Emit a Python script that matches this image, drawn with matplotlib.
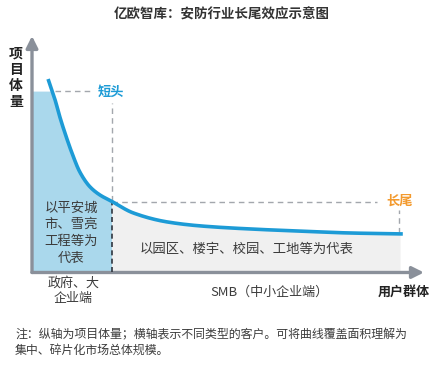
import numpy as np
import matplotlib
matplotlib.use('Agg')
import matplotlib.pyplot as plt

plt.rcParams['font.family'] = ['Noto Sans CJK SC', 'DejaVu Sans']

# long-tail curve (x: user group, y: project volume)
curve_x = [4.1, 5.9, 7.1, 8.4, 10.2, 12.2, 14.8, 17.3, 20.2, 25.8, 34.4, 42.9, 55.6, 68.4, 81.1, 94.6]
curve_y = [81.8, 72.9, 65.8, 59.0, 50.5, 42.5, 36.2, 32.8, 30.2, 25.2, 21.4, 19.7, 18.4, 17.5, 16.7, 16.3]

head_level = 76.7   # 短头 level
tail_level = 29.8   # 长尾 level
split_x = 20.3      # head / tail boundary
tail_end = 93.9
tail_mark = 93.6

title = '亿欧智库：安防行业长尾效应示意图'
head_text = '以平安城\n市、雪亮\n工程等为\n代表'
tail_text = '以园区、楼宇、校园、工地等为代表'
head_group = '政府、大\n企业端'
tail_group = 'SMB（中小企业端）'
note = '注：纵轴为项目体量；横轴表示不同类型的客户。可将曲线覆盖面积理解为\n集中、碎片化市场总体规模。'

blue = '#1d9bd6'
axis_col = '#8a909a'
dash_col = '#a3a7ad'
txt = '#3c3c3c'


def pchip(x, y, xs):
    # monotone cubic through the read points, only for a smooth drawing
    x = np.asarray(x, float)
    y = np.asarray(y, float)
    h = np.diff(x)
    d = np.diff(y) / h
    m = np.zeros_like(y)
    for k in range(1, len(x) - 1):
        if d[k - 1] * d[k] > 0:
            w1 = 2 * h[k] + h[k - 1]
            w2 = h[k] + 2 * h[k - 1]
            m[k] = (w1 + w2) / (w1 / d[k - 1] + w2 / d[k])
    m[0] = d[0]
    m[-1] = d[-1]
    i = np.clip(np.searchsorted(x, xs) - 1, 0, len(x) - 2)
    t = (xs - x[i]) / h[i]
    h00 = 2 * t**3 - 3 * t**2 + 1
    h10 = t**3 - 2 * t**2 + t
    h01 = -2 * t**3 + 3 * t**2
    h11 = t**3 - t**2
    return h00 * y[i] + h10 * h[i] * m[i] + h01 * y[i + 1] + h11 * h[i] * m[i + 1]


xs = np.linspace(curve_x[0], curve_x[-1], 600)
ys = pchip(curve_x, curve_y, xs)

fig = plt.figure(figsize=(4.36, 3.76), dpi=100)
ax = fig.add_axes([0.0734, 0.2753, 0.899, 0.629])
ax.set_xlim(0, 100)
ax.set_ylim(0, 100)
ax.axis('off')

# fills
xh = np.linspace(0, split_x, 300)
yh = np.minimum(np.interp(xh, xs, ys, left=200), head_level)
ax.fill_between(xh, 0, yh, color='#aad8ec', lw=0)
xt = np.linspace(split_x, tail_end, 300)
yt = np.interp(xt, xs, ys)
ax.fill_between(xt, 0, yt, color='#f0f0f0', lw=0)

# curve
ax.plot(xs, ys, color=blue, lw=2.6, solid_capstyle='butt', zorder=5)

# dashed guides
ysplit = np.interp(split_x, xs, ys)
ax.plot([5.9, 15.3], [head_level, head_level], ls=(0, (4, 3)), color=dash_col, lw=1)
ax.plot([split_x, split_x], [ysplit, 71.7], ls=(0, (4, 3)), color=dash_col, lw=1)
ax.plot([split_x, split_x], [0, ysplit], ls=(0, (3, 2)), color='#2f3640', lw=1.2, zorder=4)
ax.plot([split_x, 88.0], [tail_level, tail_level], ls=(0, (4, 3)), color=dash_col, lw=1)
ax.plot([tail_mark, tail_mark], [16.7, 26.4], ls=(0, (4, 3)), color=dash_col, lw=1)

# axes with arrows
ax.annotate('', xy=(0, 1), xytext=(0, 0), xycoords='axes fraction',
            arrowprops=dict(arrowstyle='-|>,head_length=0.7,head_width=0.35', color=axis_col, lw=2.4, shrinkA=0, shrinkB=0))
ax.annotate('', xy=(1, 0), xytext=(0, 0), xycoords='axes fraction',
            arrowprops=dict(arrowstyle='-|>,head_length=0.7,head_width=0.35', color=axis_col, lw=2.4, shrinkA=0, shrinkB=0))

# labels
ax.text(16.8, 76.3, '短头', color=blue, fontsize=9.5, fontweight='bold', ha='left', va='center')
ax.text(90.3, 30.2, '长尾', color='#f39a2e', fontsize=9.5, fontweight='bold', ha='left', va='center')
ax.text(10.0, 16.9, head_text, color=txt, fontsize=9.6, ha='center', va='center', linespacing=1.25)
ax.text(54.7, 9.9, tail_text, color=txt, fontsize=9.6, ha='center', va='center')
ax.text(10.5, -7.8, head_group, color=txt, fontsize=9.4, ha='center', va='center', linespacing=1.15, clip_on=False)
ax.text(60.5, -8.2, tail_group, color=txt, fontsize=9.4, ha='center', va='center', clip_on=False)
ax.text(94.9, -8.2, '用户群体', color='#222222', fontsize=9.4, fontweight='bold', ha='center', va='center', clip_on=False)

fig.text(0.0367, 0.793, '项\n目\n体\n量', color='#222222', fontsize=10, fontweight='bold',
         ha='center', va='center', linespacing=1.2)
fig.text(0.508, 0.96, title, color='#333333', fontsize=9.7, fontweight='bold', ha='center', va='center')
fig.text(0.0344, 0.09, note, color=txt, fontsize=8.6, ha='left', va='center', linespacing=1.25)

fig.savefig('out.png', dpi=100, facecolor='white')
